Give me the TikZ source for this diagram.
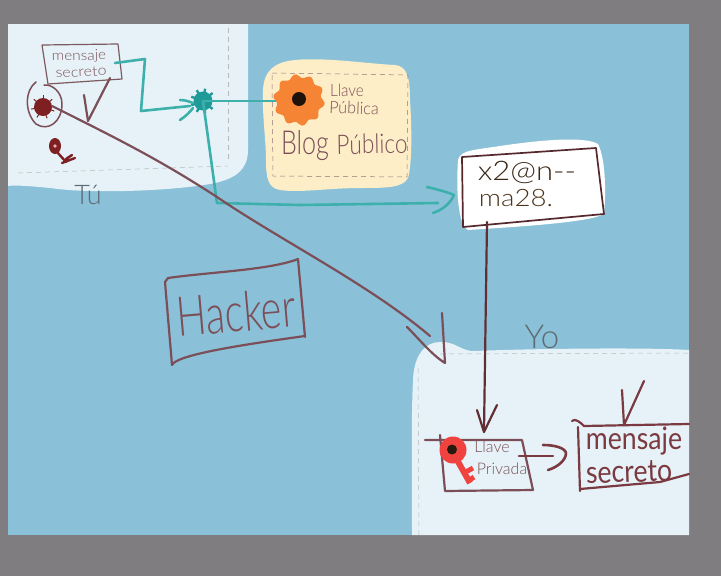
\documentclass[tikz,border=0pt]{standalone}
\usepackage{fontspec}
\setmainfont{Lato Light}
\newfontfamily\regf{Lato}
\definecolor{frameg}{HTML}{7F7D80}
\definecolor{canvasb}{HTML}{8AC1D8}
\definecolor{palep}{HTML}{E6F2F8}
\definecolor{creamy}{HTML}{FDEEC8}
\definecolor{orangef}{HTML}{F58434}
\definecolor{redk}{HTML}{F0433F}
\definecolor{brownl}{HTML}{7C4F58}
\definecolor{brownd}{HTML}{7A3A40}
\definecolor{tealk}{HTML}{3DB0AC}
\definecolor{teald}{HTML}{1F9A98}
\definecolor{bugred}{HTML}{7E1F22}
\definecolor{inkg}{HTML}{5F6A72}
\tikzset{
  x=1pt,y=-1pt,
  pen/.style={draw=brownl,line width=2.2pt,line cap=round,line join=round},
  thinpen/.style={draw=brownl!80!gray,line width=1.2pt,line cap=round,line join=round},
  tealpen/.style={draw=tealk,line width=2.6pt,line cap=round,line join=round},
  guide/.style={draw=gray!55,line width=.5pt,dash pattern=on 5pt off 4pt},
  hand/.style={inner sep=0pt,outer sep=0pt,align=center,text=brownl},
}
\newcommand{\fs}[1]{\fontsize{#1}{#1}\selectfont}
\begin{document}
\begin{tikzpicture}
\useasboundingbox (0,0) rectangle (721,576);
\fill[frameg] (0,0) rectangle (721,576);
\fill[canvasb] (8,24) rectangle (689,535);
% Tu panel
\fill[palep] (8,24) -- (248,24) -- (248,150) .. controls (248,172) and (232,180) .. (210,184)
  .. controls (170,191) and (90,194) .. (50,188) .. controls (30,186) and (15,185) .. (8,186) -- cycle;
\draw[guide] (228,28) -- (228,162);
\draw[guide] (18,173) -- (228,166);
% Yo panel
\fill[palep] (412,535) .. controls (412,480) and (411,420) .. (413,380) .. controls (414,355) and (425,342) .. (440,342)
  .. controls (455,341) and (462,352) .. (475,351) .. controls (520,349) and (640,347) .. (689,350) -- (689,535) -- cycle;
\draw[guide] (418,368) -- (419,535);
\draw[guide] (440,354) -- (689,353);
% Cream panel
\fill[creamy] (263,90) .. controls (264,70) and (275,62) .. (295,60) .. controls (325,57) and (370,64) .. (395,65)
  .. controls (408,66) and (410,80) .. (410,100) .. controls (412,130) and (412,165) .. (408,178)
  .. controls (403,188) and (385,188) .. (360,188) .. controls (330,188) and (300,193) .. (280,190)
  .. controls (268,188) and (266,178) .. (266,160) .. controls (266,140) and (262,115) .. (263,90) -- cycle;
\draw[guide,draw=brownl!80] (272,73) -- (408,75) -- (407,177) -- (273,176) -- cycle;
% White blob
\fill[white] (458,160) .. controls (460,150) and (475,150) .. (500,146) .. controls (540,140) and (585,136) .. (598,144)
  .. controls (606,160) and (606,195) .. (604,214) .. controls (590,222) and (530,226) .. (468,230)
  .. controls (458,225) and (456,190) .. (458,160) -- cycle;
% top-left message
\draw[thinpen] (42,45) -- (118,44) -- (122,79) -- (48,84) -- cycle;
\node[hand,rotate=1,font=\fs{14},xscale=1.1] (msgA) at (79,56.5) {mensaje};
\node[hand,rotate=3,font=\fs{14},xscale=1.15] (msgB) at (81,72) {secreto};
\draw[pen] (84,95) -- (88,121) -- (110,78);
% bug
\draw[pen,line width=1.5pt] (36,82) .. controls (25,90) and (24,112) .. (36,124) .. controls (48,132) and (62,122) .. (62,104) .. controls (62,92) and (52,84) .. (44,85);
\foreach \a in {20,70,120,170,220,270,320}{\draw[bugred,line width=1pt] (43,107) -- ++(\a:12);}
\fill[bugred] (43,107) circle (9);
\coordinate (bug) at (52,106);
% small key
\fill[bugred] (55,146) ellipse (6 and 8);
\fill[palep!70!red] (55,146) circle (1.8);
\draw[bugred,line width=2.4pt,line cap=round] (57,152) -- (66,162) (62,163) -- (75,158) (66,159) -- (72,155);
\node[hand,font=\fs{27},text=inkg] (tu) at (88,195) {Tú};
% star
\coordinate (star) at (203,101);
\foreach \a in {0,40,...,320}{\draw[teald,line width=2.4pt] (star) -- ++(\a:12.5);}
\fill[teald] (star) circle (9.5);
% teal connectors
\draw[tealpen] (115,63) -- (145,59) -- (141,111) -- (190,106);
\draw[tealpen] (180,100) .. controls (186,100) and (190,102) .. (193,103);
\draw[tealpen] (180,120) .. controls (186,116) and (190,112) .. (193,108);
\coordinate (flowerL) at (277,101);
\draw[tealpen] (star) -- (flowerL);
\coordinate (blobL) at (438,203);
\draw[tealpen] (star) -- (217,203) -- (300,205) -- (blobL);
\draw[tealpen] (427,187) .. controls (440,190) and (450,193) .. (454,195) .. controls (450,204) and (442,210) .. (433,213);
% flower
\fill[orangef] plot[smooth cycle,samples=60,domain=0:354,variable=\t] ({299+(24+2*sin(10*\t))*cos(\t)},{100+(24+2*sin(10*\t))*sin(\t)});
\fill[black!85!brown] (299,99) circle (7);
\node[hand,font=\fs{17},xscale=.9] (llave1) at (347,90) {Llave};
\node[hand,font=\fs{17},rotate=-2,xscale=.95] (pub1) at (354,108) {Pública};
\node[hand,font=\fs{33},xscale=.76] (blog) at (305,146) {Blog};
\node[hand,font=\fs{27},rotate=1,xscale=.84] (pub2) at (372,144) {Público};
% cipher box
\draw[draw=brownd!70!black,line width=1.7pt,line join=round] (462,157) -- (596,148) -- (604,214) -- (463,227) -- cycle;
\node[hand,font=\fs{27},xscale=1.15,text=black!70!brown] (cipher1) at (527,172) {x2@n-{}-};
\node[hand,font=\fs{24},xscale=1.15,text=black!60!brown] (cipher2) at (516,198) {ma28.};
% long arrow
\coordinate (longEnd) at (430,336);
\draw[pen] (bug) .. controls (120,140) and (160,160) .. (217,197) .. controls (280,240) and (370,285) .. (longEnd);
\draw[pen] (407,327) .. controls (420,340) and (432,355) .. (445,363) -- (442,313);
% vertical arrow
\coordinate (vTop) at (487,222);
\coordinate (vEnd) at (484,431);
\draw[pen,draw=brownd!80!black] (vTop) -- (vEnd);
\draw[pen,draw=brownd!80!black] (477,410) -- (484,432) -- (497,405);
% key box
\draw[pen] (425,440) -- (522,440) -- (533,490) -- (445,491) -- (440,435);
\node[hand,font=\fs{16}] (llave2) at (492,447) {Llave};
\node[hand,font=\fs{16}] (priv) at (502,469) {Privada};
% red key
\draw[redk,line width=6pt] (456,458) -- (470,483);
\draw[redk,line width=5pt] (464,473) -- (473,468) (468,481) -- (474,477);
\fill[redk] (453,450) circle (13.5);
\fill[black!80!brown] (452,449.5) circle (5);
% key arrow
\coordinate (kA) at (519,456);
\coordinate (kB) at (553,456);
\draw[pen,draw=brownd,line width=2.6pt] (kA) -- (kB);
\draw[pen,draw=brownd,line width=2.6pt] (543,445) .. controls (555,445) and (565,448) .. (566,453) .. controls (566,460) and (558,467) .. (548,470);
% result
\draw[pen,draw=brownd] (572,421) .. controls (575,418) and (580,422) .. (584,426) -- (689,424);
\draw[pen,draw=brownd] (578,427) -- (580,491);
\draw[pen,draw=brownd] (580,489) -- (660,482) -- (689,474);
\node[hand,font=\fs{31}\regf,text=brownd,xscale=.86] (msgC) at (634,441) {mensaje};
\node[hand,font=\fs{31}\regf,text=brownd,rotate=2,xscale=.86] (msgD) at (629,472) {secreto};
\draw[pen,draw=brownd] (622,390) -- (624,425) -- (644,381);
\node[hand,font=\fs{33},text=inkg] (yo) at (542,337) {Yo};
% hacker
\draw[pen] (165,282) -- (168,278) .. controls (210,272) and (270,270) .. (298,259) -- (305,337);
\draw[pen] (165,282) -- (172,365) .. controls (176,355) and (240,345) .. (305,336);
\node[hand,font=\fs{55},rotate=5,xscale=.72] (hacker) at (236,312) {Hacker};
\end{tikzpicture}
\end{document}
